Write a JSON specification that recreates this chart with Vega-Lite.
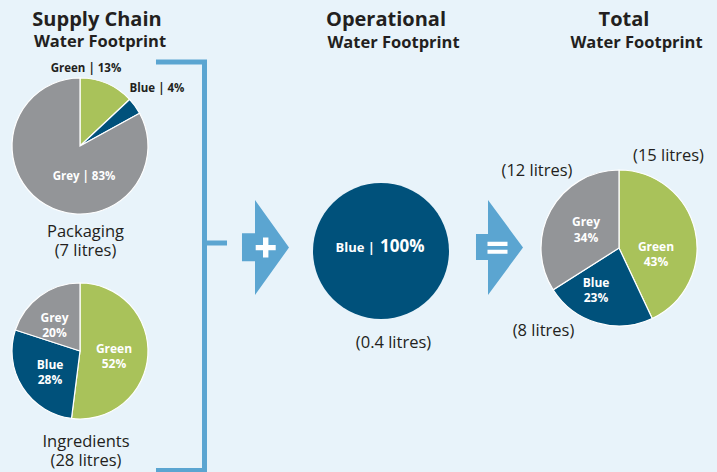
{
  "$schema": "https://vega.github.io/schema/vega-lite/v6.json",
  "width": 717,
  "height": 472,
  "padding": 0,
  "autosize": {"type": "none"},
  "background": "#e8f3fa",
  "config": {"view": {"stroke": null}, "font": "Open Sans", "text": {"font": "Open Sans"}},
  "datasets": {
    "pies": [
      {"pie": "Packaging", "stage": "Supply Chain", "level": "Packaging", "type": "Green", "pct": 13},
      {"pie": "Packaging", "stage": "Supply Chain", "level": "Packaging", "type": "Blue", "pct": 4},
      {"pie": "Packaging", "stage": "Supply Chain", "level": "Packaging", "type": "Grey", "pct": 83},
      {"pie": "Ingredients", "stage": "Supply Chain", "level": "Ingredients", "type": "Green", "pct": 52},
      {"pie": "Ingredients", "stage": "Supply Chain", "level": "Ingredients", "type": "Blue", "pct": 28},
      {"pie": "Ingredients", "stage": "Supply Chain", "level": "Ingredients", "type": "Grey", "pct": 20},
      {"pie": "Operational", "stage": "Operational", "level": "Centre", "type": "Blue", "pct": 100},
      {"pie": "Total", "stage": "Total", "level": "Centre", "type": "Green", "pct": 43, "litres": 15},
      {"pie": "Total", "stage": "Total", "level": "Centre", "type": "Blue", "pct": 23, "litres": 8},
      {"pie": "Total", "stage": "Total", "level": "Centre", "type": "Grey", "pct": 34, "litres": 12}
    ],
    "footprints": [
      {"pie": "Packaging", "stage": "Supply Chain", "level": "Packaging", "litres": 7},
      {"pie": "Ingredients", "stage": "Supply Chain", "level": "Ingredients", "litres": 28},
      {"pie": "Operational", "stage": "Operational", "level": "Centre", "litres": 0.4}
    ],
    "titles": [
      {"stage": "Supply Chain", "level": "Header", "line1": "Supply Chain", "line2": "Water Footprint"},
      {"stage": "Operational", "level": "Header", "line1": "Operational", "line2": "Water Footprint"},
      {"stage": "Total", "level": "Header", "line1": "Total", "line2": "Water Footprint"}
    ],
    "operators": [
      {"stage": "+", "level": "Centre", "sign": "+"},
      {"stage": "=", "level": "Centre", "sign": "="}
    ]
  },
  "encoding": {
    "x": {"field": "stage", "type": "nominal", "axis": null,
      "scale": {"type": "point", "domain": ["Supply Chain", "+", "Operational", "=", "Total"], "range": [80, 619], "padding": 0}},
    "y": {"field": "level", "type": "nominal", "axis": null,
      "scale": {"type": "point", "domain": ["Header", "Packaging", "Centre", "Ingredients"], "range": [19, 351], "padding": 0}}
  },
  "layer": [
    {
      "data": {"name": "operators"},
      "transform": [{"filter": "datum.sign === '+'"}],
      "mark": {"type": "point", "shape": "M-0.2375,-1 L0,-1 L0,1 L-0.2375,1 M0,-0.1138 L0.1102,-0.1138", "size": 166872, "filled": false, "color": "#5ba5d1", "strokeWidth": 5, "strokeJoin": "miter", "strokeCap": "butt", "opacity": 1, "xOffset": -10.25, "yOffset": 25.92}
    },
    {
      "data": {"name": "operators"},
      "transform": [{"filter": "datum.sign === '+'"}],
      "mark": {"type": "point", "shape": "M-0.495,-0.3 L-0.221,-0.3 L-0.221,-1 L0.495,0 L-0.221,1 L-0.221,0.29 L-0.495,0.29 Z", "size": 9025, "filled": true, "color": "#5ba5d1", "strokeWidth": 0, "opacity": 1, "xOffset": 50.75, "yOffset": 7.17}
    },
    {
      "data": {"name": "operators"},
      "transform": [{"filter": "datum.sign === '='"}],
      "mark": {"type": "point", "shape": "M-0.495,-0.284 L-0.242,-0.284 L-0.242,-1 L0.495,0 L-0.242,1 L-0.242,0.263 L-0.495,0.263 Z", "size": 9025, "filled": true, "color": "#5ba5d1", "strokeWidth": 0, "opacity": 1, "xOffset": 15.25, "yOffset": 7.17}
    },
    {
      "data": {"name": "operators"},
      "transform": [{"filter": "datum.sign === '+'"}],
      "mark": {"type": "point", "shape": "M-0.27,-1 L0.27,-1 L0.27,-0.27 L1,-0.27 L1,0.27 L0.27,0.27 L0.27,1 L-0.27,1 L-0.27,0.27 L-1,0.27 L-1,-0.27 L-0.27,-0.27 Z", "size": 400, "filled": true, "color": "#ffffff", "strokeWidth": 0, "opacity": 1, "xOffset": 50.95, "yOffset": 7.27}
    },
    {
      "data": {"name": "operators"},
      "transform": [{"filter": "datum.sign === '='"}],
      "mark": {"type": "point", "shape": "M-1,-0.6 L1,-0.6 L1,-0.18 L-1,-0.18 Z M-1,0.18 L1,0.18 L1,0.6 L-1,0.6 Z", "size": 400, "filled": true, "color": "#ffffff", "strokeWidth": 0, "opacity": 1, "xOffset": 13.25, "yOffset": 7.5}
    },
    {
      "data": {"name": "pies"},
      "transform": [{"filter": "datum.pie === 'Packaging'"}, {"calculate": "indexof(['Green','Blue','Grey'], datum.type)", "as": "ord"}],
      "mark": {"type": "arc", "outerRadius": 68, "yOffset": 16.33, "stroke": "#ffffff", "strokeWidth": 1.2},
      "encoding": {
        "theta": {"field": "pct", "type": "quantitative", "stack": true, "scale": {"domain": [0, 100]}},
        "color": {"field": "type", "type": "nominal", "legend": null, "scale": {"domain": ["Green", "Blue", "Grey"], "range": ["#a9c25a", "#00517b", "#939598"]}},
        "order": {"field": "ord", "type": "quantitative"}
      }
    },
    {
      "data": {"name": "pies"},
      "transform": [{"filter": "datum.pie === 'Ingredients'"}, {"calculate": "indexof(['Green','Blue','Grey'], datum.type)", "as": "ord"}],
      "mark": {"type": "arc", "outerRadius": 68, "stroke": "#ffffff", "strokeWidth": 1.2},
      "encoding": {
        "theta": {"field": "pct", "type": "quantitative", "stack": true, "scale": {"domain": [0, 100]}},
        "color": {"field": "type", "type": "nominal", "legend": null},
        "order": {"field": "ord", "type": "quantitative"}
      }
    },
    {
      "data": {"name": "pies"},
      "transform": [{"filter": "datum.pie === 'Operational'"}, {"calculate": "indexof(['Green','Blue','Grey'], datum.type)", "as": "ord"}],
      "mark": {"type": "arc", "outerRadius": 68, "xOffset": 31.5, "yOffset": 10.67, "strokeWidth": 0},
      "encoding": {
        "theta": {"field": "pct", "type": "quantitative", "stack": true, "scale": {"domain": [0, 100]}},
        "color": {"field": "type", "type": "nominal", "legend": null},
        "order": {"field": "ord", "type": "quantitative"}
      }
    },
    {
      "data": {"name": "pies"},
      "transform": [{"filter": "datum.pie === 'Total'"}, {"calculate": "indexof(['Green','Blue','Grey'], datum.type)", "as": "ord"}],
      "mark": {"type": "arc", "outerRadius": 78, "yOffset": 7.67, "stroke": "#ffffff", "strokeWidth": 1.2},
      "encoding": {
        "theta": {"field": "pct", "type": "quantitative", "stack": true, "scale": {"domain": [0, 100]}},
        "color": {"field": "type", "type": "nominal", "legend": null},
        "order": {"field": "ord", "type": "quantitative"}
      }
    },
    {
      "data": {"name": "titles"},
      "transform": [{"filter": "datum.stage === 'Supply Chain'"}],
      "mark": {"type": "text", "dx": 17, "dy": 7, "fontSize": 20, "fontWeight": "bold", "color": "#231f20", "baseline": "alphabetic", "align": "center"},
      "encoding": {"text": {"field": "line1", "type": "nominal"}}
    },
    {
      "data": {"name": "titles"},
      "transform": [{"filter": "datum.stage === 'Supply Chain'"}],
      "mark": {"type": "text", "dx": 20, "dy": 28, "fontSize": 16.5, "fontWeight": "bold", "color": "#231f20", "baseline": "alphabetic", "align": "center"},
      "encoding": {"text": {"field": "line2", "type": "nominal"}}
    },
    {
      "data": {"name": "titles"},
      "transform": [{"filter": "datum.stage === 'Operational'"}],
      "mark": {"type": "text", "dx": 36.5, "dy": 7, "fontSize": 20, "fontWeight": "bold", "color": "#231f20", "baseline": "alphabetic", "align": "center"},
      "encoding": {"text": {"field": "line1", "type": "nominal"}}
    },
    {
      "data": {"name": "titles"},
      "transform": [{"filter": "datum.stage === 'Operational'"}],
      "mark": {"type": "text", "dx": 44, "dy": 29, "fontSize": 16.5, "fontWeight": "bold", "color": "#231f20", "baseline": "alphabetic", "align": "center"},
      "encoding": {"text": {"field": "line2", "type": "nominal"}}
    },
    {
      "data": {"name": "titles"},
      "transform": [{"filter": "datum.stage === 'Total'"}],
      "mark": {"type": "text", "dx": 5, "dy": 7, "fontSize": 20, "fontWeight": "bold", "color": "#231f20", "baseline": "alphabetic", "align": "center"},
      "encoding": {"text": {"field": "line1", "type": "nominal"}}
    },
    {
      "data": {"name": "titles"},
      "transform": [{"filter": "datum.stage === 'Total'"}],
      "mark": {"type": "text", "dx": 17.5, "dy": 29, "fontSize": 16.5, "fontWeight": "bold", "color": "#231f20", "baseline": "alphabetic", "align": "center"},
      "encoding": {"text": {"field": "line2", "type": "nominal"}}
    },
    {
      "data": {"name": "pies"},
      "transform": [{"filter": "datum.pie === 'Packaging' && datum.type === 'Green'"}, {"calculate": "datum.type + ' | ' + datum.pct + '%'", "as": "label"}],
      "mark": {"type": "text", "dx": 6, "dy": -58, "fontSize": 11.5, "fontWeight": "bold", "color": "#231f20", "baseline": "alphabetic", "align": "center"},
      "encoding": {"text": {"field": "label", "type": "nominal"}}
    },
    {
      "data": {"name": "pies"},
      "transform": [{"filter": "datum.pie === 'Packaging' && datum.type === 'Blue'"}, {"calculate": "datum.type + ' | ' + datum.pct + '%'", "as": "label"}],
      "mark": {"type": "text", "dx": 77, "dy": -38, "fontSize": 11.5, "fontWeight": "bold", "color": "#231f20", "baseline": "alphabetic", "align": "center"},
      "encoding": {"text": {"field": "label", "type": "nominal"}}
    },
    {
      "data": {"name": "pies"},
      "transform": [{"filter": "datum.pie === 'Packaging' && datum.type === 'Grey'"}, {"calculate": "datum.type + ' | ' + datum.pct + '%'", "as": "label"}],
      "mark": {"type": "text", "dx": 4, "dy": 50.3, "fontSize": 11.5, "fontWeight": "bold", "color": "#ffffff", "baseline": "alphabetic", "align": "center"},
      "encoding": {"text": {"field": "label", "type": "nominal"}}
    },
    {
      "data": {"name": "pies"},
      "transform": [{"filter": "datum.pie === 'Ingredients' && datum.type === 'Green'"}, {"calculate": "datum.type + '\\n' + datum.pct + '%'", "as": "label"}],
      "mark": {"type": "text", "dx": 34, "dy": 2.3, "fontSize": 12, "lineHeight": 15, "lineBreak": "\n", "fontWeight": "bold", "color": "#ffffff", "baseline": "alphabetic", "align": "center"},
      "encoding": {"text": {"field": "label", "type": "nominal"}}
    },
    {
      "data": {"name": "pies"},
      "transform": [{"filter": "datum.pie === 'Ingredients' && datum.type === 'Blue'"}, {"calculate": "datum.type + '\\n' + datum.pct + '%'", "as": "label"}],
      "mark": {"type": "text", "dx": -30, "dy": 18, "fontSize": 12, "lineHeight": 15, "lineBreak": "\n", "fontWeight": "bold", "color": "#ffffff", "baseline": "alphabetic", "align": "center"},
      "encoding": {"text": {"field": "label", "type": "nominal"}}
    },
    {
      "data": {"name": "pies"},
      "transform": [{"filter": "datum.pie === 'Ingredients' && datum.type === 'Grey'"}, {"calculate": "datum.type + '\\n' + datum.pct + '%'", "as": "label"}],
      "mark": {"type": "text", "dx": -25.5, "dy": -29.3, "fontSize": 12, "lineHeight": 15, "lineBreak": "\n", "fontWeight": "bold", "color": "#ffffff", "baseline": "alphabetic", "align": "center"},
      "encoding": {"text": {"field": "label", "type": "nominal"}}
    },
    {
      "data": {"name": "pies"},
      "transform": [{"filter": "datum.pie === 'Operational'"}, {"calculate": "datum.type + ' |'", "as": "label"}],
      "mark": {"type": "text", "dx": 25.5, "dy": 11.2, "fontSize": 13, "fontWeight": "bold", "color": "#ffffff", "baseline": "alphabetic", "align": "right"},
      "encoding": {"text": {"field": "label", "type": "nominal"}}
    },
    {
      "data": {"name": "pies"},
      "transform": [{"filter": "datum.pie === 'Operational'"}, {"calculate": "datum.pct + '%'", "as": "label"}],
      "mark": {"type": "text", "dx": 30.5, "dy": 12, "fontSize": 17, "fontWeight": "bold", "color": "#ffffff", "baseline": "alphabetic", "align": "left"},
      "encoding": {"text": {"field": "label", "type": "nominal"}}
    },
    {
      "data": {"name": "pies"},
      "transform": [{"filter": "datum.pie === 'Total' && datum.type === 'Grey'"}, {"calculate": "datum.type + '\\n' + datum.pct + '%'", "as": "label"}],
      "mark": {"type": "text", "dx": -33, "dy": -14.3, "fontSize": 12, "lineHeight": 16, "lineBreak": "\n", "fontWeight": "bold", "color": "#ffffff", "baseline": "alphabetic", "align": "center"},
      "encoding": {"text": {"field": "label", "type": "nominal"}}
    },
    {
      "data": {"name": "pies"},
      "transform": [{"filter": "datum.pie === 'Total' && datum.type === 'Green'"}, {"calculate": "datum.type + '\\n' + datum.pct + '%'", "as": "label"}],
      "mark": {"type": "text", "dx": 37, "dy": 10.7, "fontSize": 12, "lineHeight": 15, "lineBreak": "\n", "fontWeight": "bold", "color": "#ffffff", "baseline": "alphabetic", "align": "center"},
      "encoding": {"text": {"field": "label", "type": "nominal"}}
    },
    {
      "data": {"name": "pies"},
      "transform": [{"filter": "datum.pie === 'Total' && datum.type === 'Blue'"}, {"calculate": "datum.type + '\\n' + datum.pct + '%'", "as": "label"}],
      "mark": {"type": "text", "dx": -23, "dy": 46.4, "fontSize": 12, "lineHeight": 15, "lineBreak": "\n", "fontWeight": "bold", "color": "#ffffff", "baseline": "alphabetic", "align": "center"},
      "encoding": {"text": {"field": "label", "type": "nominal"}}
    },
    {
      "data": {"name": "pies"},
      "transform": [{"filter": "datum.pie === 'Total' && datum.type === 'Grey'"}, {"calculate": "'(' + datum.litres + ' litres)'", "as": "label"}],
      "mark": {"type": "text", "dx": -82, "dy": -64.3, "fontSize": 16.5, "color": "#231f20", "baseline": "alphabetic", "align": "center"},
      "encoding": {"text": {"field": "label", "type": "nominal"}}
    },
    {
      "data": {"name": "pies"},
      "transform": [{"filter": "datum.pie === 'Total' && datum.type === 'Green'"}, {"calculate": "'(' + datum.litres + ' litres)'", "as": "label"}],
      "mark": {"type": "text", "dx": 49.5, "dy": -79.7, "fontSize": 16.5, "color": "#231f20", "baseline": "alphabetic", "align": "center"},
      "encoding": {"text": {"field": "label", "type": "nominal"}}
    },
    {
      "data": {"name": "pies"},
      "transform": [{"filter": "datum.pie === 'Total' && datum.type === 'Blue'"}, {"calculate": "'(' + datum.litres + ' litres)'", "as": "label"}],
      "mark": {"type": "text", "dx": -75.5, "dy": 95.7, "fontSize": 16.5, "color": "#231f20", "baseline": "alphabetic", "align": "center"},
      "encoding": {"text": {"field": "label", "type": "nominal"}}
    },
    {
      "data": {"name": "footprints"},
      "transform": [{"filter": "datum.pie === 'Packaging'"}, {"calculate": "datum.pie + '\\n(' + datum.litres + ' litres)'", "as": "label"}],
      "mark": {"type": "text", "dx": 5.5, "dy": 107.4, "fontSize": 16.5, "lineHeight": 18.5, "lineBreak": "\n", "color": "#231f20", "baseline": "alphabetic", "align": "center"},
      "encoding": {"text": {"field": "label", "type": "nominal"}}
    },
    {
      "data": {"name": "footprints"},
      "transform": [{"filter": "datum.pie === 'Ingredients'"}, {"calculate": "datum.pie + '\\n(' + datum.litres + ' litres)'", "as": "label"}],
      "mark": {"type": "text", "dx": 6, "dy": 95.7, "fontSize": 16.5, "lineHeight": 19, "lineBreak": "\n", "color": "#231f20", "baseline": "alphabetic", "align": "center"},
      "encoding": {"text": {"field": "label", "type": "nominal"}}
    },
    {
      "data": {"name": "footprints"},
      "transform": [{"filter": "datum.pie === 'Operational'"}, {"calculate": "'(' + datum.litres + ' litres)'", "as": "label"}],
      "mark": {"type": "text", "dx": 44, "dy": 108, "fontSize": 16.5, "color": "#231f20", "baseline": "alphabetic", "align": "center"},
      "encoding": {"text": {"field": "label", "type": "nominal"}}
    }
  ]
}
